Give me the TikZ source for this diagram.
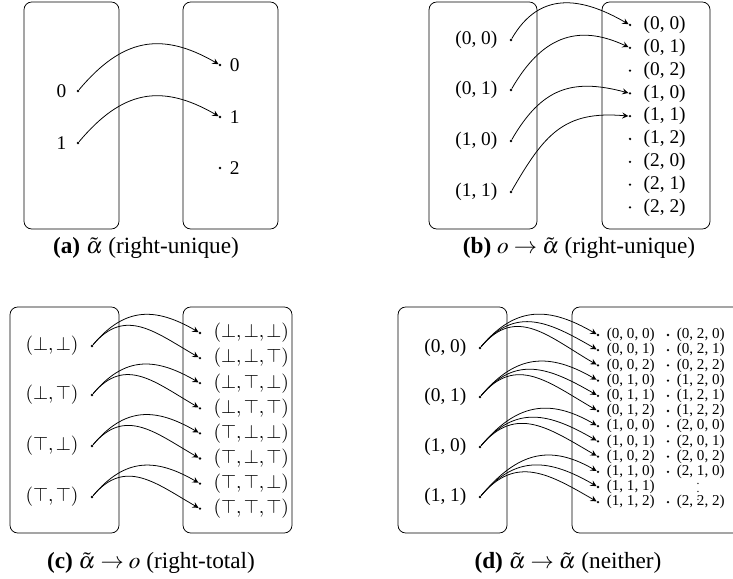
\documentclass[tikz,border=0pt]{standalone}
\usepackage{mathptmx}
\usepackage[no-math]{fontspec}
\setmainfont{Liberation Serif}
\usepackage{tikz}

\begin{document}
\begin{tikzpicture}[
  >=stealth, x=0.516pt, y=-0.516pt, label distance=5pt,
  every label/.append style={inner sep=1pt},
  setbox/.style={draw, rounded corners=4pt},
  pt/.style={circle, fill, inner sep=0pt, minimum size=1.3pt},
  map/.style={->, out=50, in=150, looseness=1.2},
  sm/.style={font=\fontsize{7.8}{8}\selectfont, label distance=2.5pt},
  subcap/.style={font=\fontsize{12}{14}\selectfont}]
  \useasboundingbox (0,0) rectangle (733,579);
  \clip (0,0) rectangle (733,579);
  % (a)
  \draw[setbox] (24,2) rectangle (119,229);
  \draw[setbox] (183,2) rectangle (278,229);
  \node[pt, label={[label distance=4pt]left:0}] (aL0) at (78,91) {};
  \node[pt, label={[label distance=4pt]left:1}] (aL1) at (78,143) {};
  \node[pt, label={[label distance=3pt]right:0}] (aR0) at (220,65) {};
  \node[pt, label={[label distance=3pt]right:1}] (aR1) at (220,117) {};
  \node[pt, label={[label distance=3pt]right:2}] (aR2) at (220,168) {};
  \draw[map] (aL0) to (aR0); \draw[map] (aL1) to (aR1);
  \node[subcap] (capA) at (146,248) {\textbf{(a)}~$\tilde{\alpha}$ (right-unique)};
  % (b)
  \draw[setbox] (429,2) rectangle (537,229);
  \draw[setbox] (602,2) rectangle (710,229);
  \node[pt, label={left:{(0, 0)}}] (bL1) at (511,40) {};
  \node[pt, label={left:{(0, 1)}}] (bL2) at (511,90) {};
  \node[pt, label={left:{(1, 0)}}] (bL3) at (511,141) {};
  \node[pt, label={left:{(1, 1)}}] (bL4) at (511,192) {};
  \node[pt, label={right:{(0, 0)}}] (bR1) at (630,25) {};
  \node[pt, label={right:{(0, 1)}}] (bR2) at (630,47.8) {};
  \node[pt, label={right:{(0, 2)}}] (bR3) at (630,70.6) {};
  \node[pt, label={right:{(1, 0)}}] (bR4) at (630,93.4) {};
  \node[pt, label={right:{(1, 1)}}] (bR5) at (630,116.2) {};
  \node[pt, label={right:{(1, 2)}}] (bR6) at (630,139) {};
  \node[pt, label={right:{(2, 0)}}] (bR7) at (630,161.8) {};
  \node[pt, label={right:{(2, 1)}}] (bR8) at (630,184.6) {};
  \node[pt, label={right:{(2, 2)}}] (bR9) at (630,207.4) {};
  \draw[map, out=60] (bL1) to (bR1); \draw[map, out=60, in=155] (bL2) to (bR2);
  \draw[map, out=60, in=165] (bL3) to (bR4); \draw[map, out=60, in=175] (bL4) to (bR5);
  \node[subcap] (capB) at (579,248) {\textbf{(b)}~$o\rightarrow\tilde{\alpha}$ (right-unique)};
  % (c)
  \draw[setbox] (10,307) rectangle (119,533);
  \draw[setbox] (183,307) rectangle (292,533);
  \node[pt, label={left:$(\bot,\bot)$}] (cL1) at (92,346) {};
  \node[pt, label={left:$(\bot,\top)$}] (cL2) at (92,395) {};
  \node[pt, label={left:$(\top,\bot)$}] (cL3) at (92,446) {};
  \node[pt, label={left:$(\top,\top)$}] (cL4) at (92,497) {};
  \node[pt, label={right:$(\bot,\bot,\bot)$}] (cR1) at (200,333) {};
  \node[pt, label={right:$(\bot,\bot,\top)$}] (cR2) at (200,358.1) {};
  \node[pt, label={right:$(\bot,\top,\bot)$}] (cR3) at (200,383.2) {};
  \node[pt, label={right:$(\bot,\top,\top)$}] (cR4) at (200,408.3) {};
  \node[pt, label={right:$(\top,\bot,\bot)$}] (cR5) at (200,433.4) {};
  \node[pt, label={right:$(\top,\bot,\top)$}] (cR6) at (200,458.5) {};
  \node[pt, label={right:$(\top,\top,\bot)$}] (cR7) at (200,483.6) {};
  \node[pt, label={right:$(\top,\top,\top)$}] (cR8) at (200,508.7) {};
  \draw[map] (cL1) to (cR1); \draw[map] (cL1) to (cR2);
  \draw[map] (cL2) to (cR3); \draw[map] (cL2) to (cR4);
  \draw[map] (cL3) to (cR5); \draw[map] (cL3) to (cR6);
  \draw[map] (cL4) to (cR7); \draw[map] (cL4) to (cR8);
  \node[subcap] (capC) at (151,563) {\textbf{(c)}~$\tilde{\alpha}\rightarrow o$ (right-total)};
  % (d)
  \draw[setbox] (398,307) rectangle (507,533);
  \draw[setbox] (572,307) rectangle (760,533);
  \node[pt, label={left:{(0, 0)}}] (dL1) at (480,348) {};
  \node[pt, label={left:{(0, 1)}}] (dL2) at (480,397) {};
  \node[pt, label={left:{(1, 0)}}] (dL3) at (480,447) {};
  \node[pt, label={left:{(1, 1)}}] (dL4) at (480,497) {};
  \node[pt, label={[sm]right:{(0, 0, 0)}}] (dR1) at (598,335) {};
  \node[pt, label={[sm]right:{(0, 0, 1)}}] (dR2) at (598,350.2) {};
  \node[pt, label={[sm]right:{(0, 0, 2)}}] (dR3) at (598,365.4) {};
  \node[pt, label={[sm]right:{(0, 1, 0)}}] (dR4) at (598,380.6) {};
  \node[pt, label={[sm]right:{(0, 1, 1)}}] (dR5) at (598,395.8) {};
  \node[pt, label={[sm]right:{(0, 1, 2)}}] (dR6) at (598,411) {};
  \node[pt, label={[sm]right:{(1, 0, 0)}}] (dR7) at (598,426.2) {};
  \node[pt, label={[sm]right:{(1, 0, 1)}}] (dR8) at (598,441.4) {};
  \node[pt, label={[sm]right:{(1, 0, 2)}}] (dR9) at (598,456.6) {};
  \node[pt, label={[sm]right:{(1, 1, 0)}}] (dR10) at (598,471.8) {};
  \node[pt, label={[sm]right:{(1, 1, 1)}}] (dR11) at (598,487) {};
  \node[pt, label={[sm]right:{(1, 1, 2)}}] (dR12) at (598,502.2) {};
  \node[pt, label={[sm]right:{(0, 2, 0)}}] (dS1) at (668,335) {};
  \node[pt, label={[sm]right:{(0, 2, 1)}}] (dS2) at (668,350.2) {};
  \node[pt, label={[sm]right:{(0, 2, 2)}}] (dS3) at (668,365.4) {};
  \node[pt, label={[sm]right:{(1, 2, 0)}}] (dS4) at (668,380.6) {};
  \node[pt, label={[sm]right:{(1, 2, 1)}}] (dS5) at (668,395.8) {};
  \node[pt, label={[sm]right:{(1, 2, 2)}}] (dS6) at (668,411) {};
  \node[pt, label={[sm]right:{(2, 0, 0)}}] (dS7) at (668,426.2) {};
  \node[pt, label={[sm]right:{(2, 0, 1)}}] (dS8) at (668,441.4) {};
  \node[pt, label={[sm]right:{(2, 0, 2)}}] (dS9) at (668,456.6) {};
  \node[pt, label={[sm]right:{(2, 1, 0)}}] (dS10) at (668,471.8) {};
  \node[font=\fontsize{6}{6}\selectfont, inner sep=0pt] (dvd) at (698,486) {$\vdots$};
  \node[pt, label={[sm]right:{(2, 2, 2)}}] (dS12) at (668,502.2) {};
  \draw[map] (dL1) to (dR1); \draw[map] (dL1) to (dR2); \draw[map] (dL1) to (dR3);
  \draw[map] (dL2) to (dR4); \draw[map] (dL2) to (dR5); \draw[map] (dL2) to (dR6);
  \draw[map] (dL3) to (dR7); \draw[map] (dL3) to (dR8); \draw[map] (dL3) to (dR9);
  \draw[map] (dL4) to (dR10); \draw[map] (dL4) to (dR11); \draw[map] (dL4) to (dR12);
  \node[subcap] (capD) at (568,563) {\textbf{(d)}~$\tilde{\alpha}\rightarrow\tilde{\alpha}$ (neither)};
\end{tikzpicture}
\end{document}
